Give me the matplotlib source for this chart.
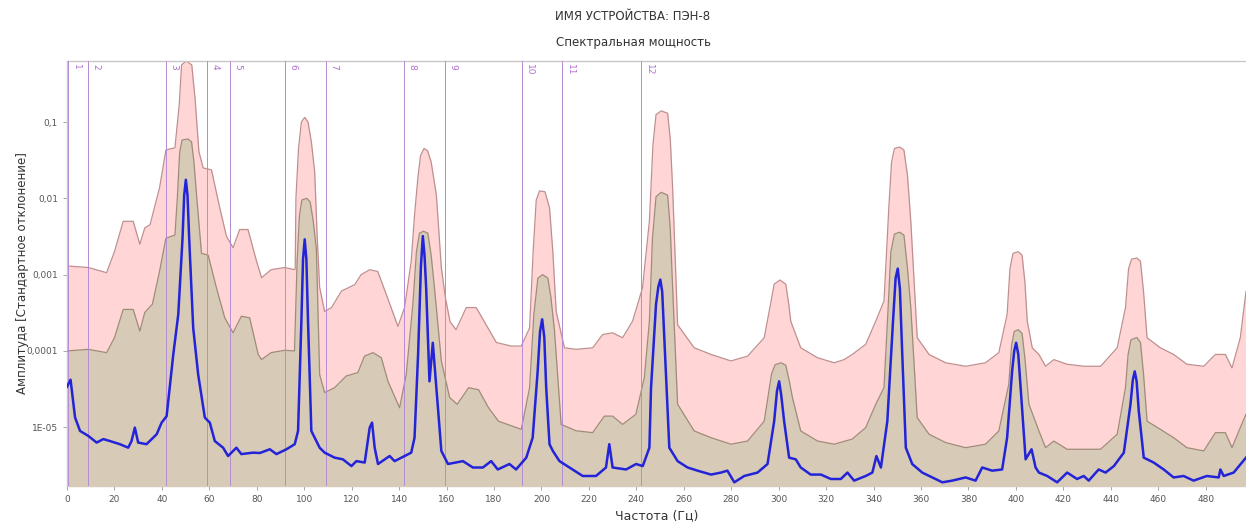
import numpy as np
import matplotlib.pyplot as plt
import matplotlib.transforms as mtransforms
from matplotlib.ticker import FixedLocator, NullLocator

plt.rcParams["font.family"] = ["DejaVu Sans"]

# верхняя граница (розовая заливка)
up_f = [0, 9, 16.7, 20, 23.7, 27.9, 30.7, 32.8, 35, 39, 41.7, 45.5, 47.3, 48.3, 50.3, 52.6, 54,
        55.6, 57.4, 60.9, 64.4, 67.2, 70, 72.8, 76.3, 79.9, 82, 86, 91.8, 96, 96.2, 96.5, 97.6,
        98.8, 100.2, 101.6, 103, 104.4, 105.5, 106.5, 108.6, 111.5, 115.7, 121.3, 124, 127.6,
        131, 134.6, 139.5, 142.3, 145.1, 146.5, 147.9, 149, 150.5, 152, 153.5, 155.7, 157.8,
        159.5, 161.5, 164, 168.3, 172.5, 176.7, 181, 187.2, 191.5, 195, 196.5, 197.8, 199.2,
        201.5, 203.4, 204.8, 206.2, 209.7, 214.6, 221.6, 225.8, 230, 234.2, 238.4, 242.6,
        245.5, 247, 248.3, 250.5, 253.2, 254.3, 255.3, 257.4, 264.4, 271.5, 279.9, 286.9,
        293.9, 296.5, 298.1, 300.5, 303, 304.3, 305.1, 309.3, 316.4, 323.4, 327.6, 331, 336.7,
        340.9, 344.4, 346.5, 347.6, 348.8, 351, 352.8, 354.3, 355.7, 358.4, 363.4, 370.4,
        378.8, 387.2, 392.8, 396.3, 397.5, 398.8, 401, 402.6, 403.8, 404.8, 406.9, 409.7,
        412.5, 416, 421.6, 428.6, 435.7, 442.7, 446.2, 447.5, 448.8, 451, 452.5, 453.8, 455.3,
        460.9, 466.5, 472.1, 479.2, 484.1, 488.3, 491.1, 494.6, 497]
up_v = [1.3e-3, 1.24e-3, 1.06e-3, 2.0e-3, 5.0e-3, 5.0e-3, 2.5e-3, 4.1e-3, 4.5e-3, 1.37e-2,
        4.3e-2, 4.6e-2, 0.167, 0.56, 0.63, 0.56, 0.2, 4.1e-2, 2.5e-2, 2.36e-2, 7.5e-3, 3.2e-3,
        2.25e-3, 3.9e-3, 3.9e-3, 1.5e-3, 9.1e-4, 1.16e-3, 1.24e-3, 1.16e-3, 1.2e-3, 1.0e-2,
        4.5e-2, 0.1, 0.115, 0.1, 5.5e-2, 2.24e-2, 3.0e-3, 6.8e-4, 3.3e-4, 3.7e-4, 6.1e-4,
        7.4e-4, 1.0e-3, 1.16e-3, 1.1e-3, 5.5e-4, 2.1e-4, 3.7e-4, 1.5e-3, 6.0e-3, 1.84e-2,
        3.6e-2, 4.5e-2, 4.2e-2, 3.0e-2, 1.11e-2, 1.24e-3, 5.0e-4, 2.4e-4, 1.9e-4, 3.7e-4,
        3.7e-4, 2.2e-4, 1.29e-4, 1.16e-4, 1.16e-4, 2.0e-4, 2.0e-3, 9.5e-3, 1.25e-2, 1.22e-2,
        7.5e-3, 2.0e-3, 3.3e-4, 1.1e-4, 1.05e-4, 1.1e-4, 1.64e-4, 1.73e-4, 1.49e-4, 2.45e-4,
        6.7e-4, 5.0e-3, 5.0e-2, 0.125, 0.14, 0.13, 6.0e-2, 1.37e-2, 2.2e-4, 1.1e-4, 9.0e-5,
        7.4e-5, 8.55e-5, 1.49e-4, 4.0e-4, 7.5e-4, 8.5e-4, 7.5e-4, 4.0e-4, 2.45e-4, 1.1e-4,
        8.15e-5, 7.0e-5, 7.7e-5, 9.0e-5, 1.22e-4, 2.45e-4, 4.5e-4, 8.2e-3, 3.0e-2, 4.5e-2,
        4.7e-2, 4.3e-2, 2.0e-2, 5.0e-3, 1.49e-4, 9.0e-5, 7.0e-5, 6.3e-5, 7.0e-5, 9.5e-5,
        3.0e-4, 1.2e-3, 1.9e-3, 2.0e-3, 1.8e-3, 8.0e-4, 2.45e-4, 1.1e-4, 9.0e-5, 6.3e-5,
        7.7e-5, 6.7e-5, 6.3e-5, 6.3e-5, 1.1e-4, 3.7e-4, 1.2e-3, 1.6e-3, 1.65e-3, 1.5e-3,
        6.0e-4, 1.49e-4, 1.1e-4, 9.0e-5, 6.7e-5, 6.3e-5, 9.0e-5, 9.0e-5, 6.0e-5, 1.49e-4,
        6.0e-4]

# средняя граница (бежевая заливка)
mid_f = [0, 9, 16.7, 20, 23.7, 27.9, 30.7, 32.8, 36, 39, 41.7, 45.5, 46.5, 47.5, 48.5, 51,
         52.5, 53.5, 54.6, 56.7, 59.5, 63, 66.5, 70, 73.5, 77, 80.6, 82, 86, 91.8, 95.9, 97,
         98, 99, 101, 102.5, 103.8, 105.1, 106.5, 108.6, 112.8, 117.7, 122.6, 125.4, 129,
         132.5, 135.3, 140.2, 143, 145.8, 147.3, 148.6, 150.3, 152.1, 153.5, 154.9, 157.8,
         161.3, 164.5, 169.3, 173.5, 177.7, 181.9, 191.5, 195, 196.8, 198.5, 200.5, 202.7,
         204, 205.5, 208.3, 214.6, 221.6, 226.5, 230, 234.2, 239.8, 243.4, 245.5, 246.8,
         248.3, 250.5, 253.2, 254.3, 255.3, 257.4, 264.4, 271.5, 279.9, 286.9, 293.9, 295.5,
         297, 298.5, 301, 303, 304.5, 305.8, 309.3, 316.4, 323.4, 331, 336.7, 340.9, 344.4,
         346, 347.3, 348.8, 351, 352.8, 354.3, 355.7, 358.4, 363.4, 370.4, 378.8, 387.2,
         392.8, 397, 398.2, 399.3, 401, 402.6, 403.8, 405.5, 409.7, 412.5, 416, 421.6, 428.6,
         435.7, 442.7, 446.2, 447.3, 448.5, 451, 452.5, 453.8, 455.3, 460.9, 466.5, 472.1,
         479.2, 484.1, 488.3, 491.1, 494.6, 497]
mid_v = [1.0e-4, 1.05e-4, 9.5e-5, 1.49e-4, 3.5e-4, 3.5e-4, 1.82e-4, 3.2e-4, 4.1e-4, 1.1e-3,
         3.0e-3, 3.3e-3, 1.0e-2, 4.0e-2, 5.8e-2, 6.0e-2, 5.5e-2, 3.0e-2, 1.11e-2, 1.9e-3,
         1.8e-3, 6.7e-4, 2.72e-4, 1.73e-4, 2.85e-4, 2.72e-4, 9.0e-5, 7.7e-5, 9.5e-5, 1.02e-4,
         1.0e-4, 1.5e-3, 6.0e-3, 9.5e-3, 1.0e-2, 9.0e-3, 5.0e-3, 2.2e-3, 4.9e-5, 2.85e-5,
         3.3e-5, 4.7e-5, 5.2e-5, 8.55e-5, 9.5e-5, 8.15e-5, 4.0e-5, 1.8e-5, 4.9e-5, 4.1e-4,
         2.0e-3, 3.5e-3, 3.7e-3, 3.5e-3, 1.8e-3, 6.7e-4, 7.4e-5, 2.45e-5, 2.0e-5, 3.3e-5,
         3.1e-5, 1.8e-5, 1.2e-5, 9.4e-6, 3.3e-5, 3.0e-4, 9.0e-4, 1.0e-3, 9.0e-4, 5.0e-4,
         1.82e-4, 1.09e-5, 9.0e-6, 8.5e-6, 1.4e-5, 1.4e-5, 1.09e-5, 1.48e-5, 4.5e-5, 2.45e-4,
         3.0e-3, 1.05e-2, 1.2e-2, 1.1e-2, 4.0e-3, 6.7e-4, 2.0e-5, 8.95e-6, 7.3e-6, 6.0e-6,
         6.6e-6, 1.2e-5, 2.5e-5, 5.0e-5, 6.6e-5, 7.0e-5, 6.5e-5, 4.0e-5, 2.45e-5, 8.95e-6,
         6.6e-6, 6.0e-6, 7.0e-6, 9.9e-6, 2.0e-5, 3.3e-5, 3.0e-4, 2.0e-3, 3.4e-3, 3.6e-3,
         3.3e-3, 1.2e-3, 3.7e-4, 1.34e-5, 8.1e-6, 6.3e-6, 5.4e-6, 6.0e-6, 8.95e-6, 3.65e-5,
         1.2e-4, 1.8e-4, 1.9e-4, 1.7e-4, 8.0e-5, 2.0e-5, 8.95e-6, 5.4e-6, 6.6e-6, 5.15e-6,
         5.15e-6, 5.15e-6, 8.1e-6, 3.3e-5, 9.0e-5, 1.4e-4, 1.5e-4, 1.3e-4, 5.0e-5, 1.2e-5,
         9.4e-6, 7.3e-6, 5.4e-6, 4.9e-6, 8.5e-6, 8.5e-6, 5.4e-6, 9.9e-6, 1.48e-5]

# среднее значение (синяя линия)
avg_f = [0, 0.5, 1.5, 3.4, 5.5, 9, 12.5, 15.3, 18.1, 22.3, 25.8, 27.2, 28.6, 30, 33.5, 37.8,
         39.9, 42, 44.8, 46.9, 48.7, 49.4, 50.1, 50.8, 51.5, 53.2, 55.3, 58.1, 60.2, 62.3,
         65.8, 67.9, 71.4, 73.5, 78.4, 81.3, 85.5, 88.3, 92.5, 96, 97.4, 98.8, 99.5, 100.2,
         100.9, 101.6, 103, 106.5, 108.6, 112.8, 116.3, 119.9, 122, 125.5, 127.6, 128.6,
         129.7, 131.1, 136, 138.1, 142.3, 145.1, 146.5, 148, 149.2, 150, 150.7, 151.4, 152.8,
         154.2, 155.7, 157.8, 160.6, 166.9, 171.1, 175.3, 178.8, 181.6, 186.5, 189.3, 193.6,
         196.3, 198.4, 199.4, 200.3, 201.2, 202, 203.4, 204.8, 207.6, 211.8, 217.4, 223,
         227.2, 228.6, 230, 235.7, 239.9, 242.7, 245.5, 246.2, 248.3, 249.3, 250.1, 250.9,
         251.8, 253.9, 257.4, 261.6, 265.8, 271.5, 275.7, 278.4, 281.3, 285.5, 291.1, 295.3,
         298.1, 299.3, 300.2, 301.1, 302.3, 304.4, 307.2, 309.3, 313.5, 317.8, 322, 326.2,
         329, 331.8, 336.7, 339.5, 341.2, 343.1, 345.8, 348.2, 349.3, 350.2, 351.1, 352.1,
         353.6, 356.3, 360.5, 364.8, 369, 373.2, 378.8, 383, 385.8, 390, 394.2, 396.3, 398.4,
         399.3, 400.1, 401, 402, 404.1, 406.6, 408.3, 409.7, 413.2, 417.4, 421.6, 425.8,
         428.6, 430.7, 434.9, 437.8, 441.3, 445.5, 448.3, 449.3, 450.1, 450.9, 451.8, 453.9,
         458.1, 462.3, 466.5, 470.7, 474.9, 480.5, 485.5, 486.2, 487.6, 491.8, 497]
avg_v = [3.4e-5, 3.65e-5, 4.2e-5, 1.34e-5, 8.95e-6, 7.7e-6, 6.3e-6, 7.0e-6, 6.6e-6, 6.0e-6,
         5.4e-6, 6.6e-6, 9.9e-6, 6.3e-6, 6.0e-6, 8.1e-6, 1.15e-5, 1.4e-5, 9.0e-5, 3.0e-4,
         3.0e-3, 1.1e-2, 1.75e-2, 1.1e-2, 3.0e-3, 2.0e-4, 4.9e-5, 1.34e-5, 1.15e-5, 6.6e-6,
         5.4e-6, 4.2e-6, 5.4e-6, 4.45e-6, 4.65e-6, 4.6e-6, 5.15e-6, 4.45e-6, 5.15e-6, 6.0e-6,
         8.95e-6, 2.45e-4, 1.6e-3, 2.9e-3, 1.6e-3, 2.45e-4, 8.95e-6, 5.4e-6, 4.65e-6, 4.0e-6,
         3.8e-6, 3.1e-6, 3.6e-6, 3.45e-6, 9.9e-6, 1.15e-5, 5.4e-6, 3.3e-6, 4.2e-6, 3.6e-6,
         4.2e-6, 4.65e-6, 7.3e-6, 9.0e-5, 1.3e-3, 3.2e-3, 1.8e-3, 6.7e-4, 4.0e-5, 1.28e-4,
         3.3e-5, 4.9e-6, 3.3e-6, 3.6e-6, 2.97e-6, 2.97e-6, 3.6e-6, 2.8e-6, 3.3e-6, 2.8e-6,
         4.0e-6, 7.3e-6, 5.4e-5, 1.8e-4, 2.6e-4, 1.5e-4, 3.3e-5, 6.0e-6, 4.9e-6, 3.6e-6,
         2.97e-6, 2.3e-6, 2.3e-6, 2.97e-6, 6.0e-6, 2.97e-6, 2.8e-6, 3.3e-6, 3.1e-6, 5.4e-6,
         3.3e-5, 4.1e-4, 7.0e-4, 8.6e-4, 6.0e-4, 1.49e-4, 5.4e-6, 3.6e-6, 2.97e-6, 2.7e-6,
         2.4e-6, 2.55e-6, 2.7e-6, 1.9e-6, 2.3e-6, 2.55e-6, 3.3e-6, 1.2e-5, 3.0e-5, 4.0e-5,
         2.6e-5, 1.2e-5, 4.0e-6, 3.8e-6, 2.97e-6, 2.4e-6, 2.4e-6, 2.1e-6, 2.1e-6, 2.55e-6,
         2.0e-6, 2.3e-6, 2.55e-6, 4.2e-6, 2.97e-6, 1.2e-5, 2.45e-4, 9.0e-4, 1.2e-3, 6.5e-4,
         9.0e-5, 5.4e-6, 3.3e-6, 2.55e-6, 2.2e-6, 1.9e-6, 2.0e-6, 2.2e-6, 2.0e-6, 2.97e-6,
         2.7e-6, 2.8e-6, 7.3e-6, 5.4e-5, 1.0e-4, 1.28e-4, 9.0e-5, 3.3e-5, 3.8e-6, 5.15e-6,
         2.97e-6, 2.55e-6, 2.3e-6, 1.9e-6, 2.55e-6, 2.1e-6, 2.3e-6, 2.0e-6, 2.8e-6, 2.55e-6,
         3.1e-6, 4.65e-6, 2.0e-5, 4.2e-5, 5.4e-5, 4.0e-5, 1.63e-5, 4.0e-6, 3.45e-6, 2.8e-6,
         2.2e-6, 2.3e-6, 2.0e-6, 2.3e-6, 2.2e-6, 2.8e-6, 2.3e-6, 2.55e-6, 4.0e-6]

# маркеры (вертикальные линии)
marker_f = [0.5, 8.8, 41.7, 59.2, 68.6, 91.8, 109, 141.9, 159.2, 191.6, 208.8, 242.1]
marker_lbl = [str(i) for i in range(1, 13)]

y_ticks = [1e-5, 1e-4, 1e-3, 1e-2, 1e-1]
y_tick_lbl = ["1E-05", "0,0001", "0,001", "0,01", "0,1"]
x_ticks = list(range(0, 481, 20))

fig = plt.figure(figsize=(12.46, 5.24), dpi=100)
ax = fig.add_axes([67 / 1246, 1 - 486 / 524, 1 - 67 / 1246, (486 - 61) / 524])

floor = 1e-7
ax.fill_between(up_f, up_v, floor, color="#ffd5d5", lw=0, zorder=1)
ax.plot(up_f, up_v, color="#bf8f8f", lw=0.9, zorder=2)
ax.fill_between(mid_f, mid_v, floor, color="#d7cbb7", lw=0, zorder=3)
ax.plot(mid_f, mid_v, color="#9e8c79", lw=0.9, zorder=4)

trans = mtransforms.blended_transform_factory(ax.transData, ax.transAxes)
for f, lbl in zip(marker_f, marker_lbl):
    ax.axvline(f, color="#b48cd2", lw=0.7, zorder=5)
    ax.text(f + 1.4, 0.993, lbl, transform=trans, rotation=-90, ha="left", va="top",
            fontsize=6.5, color="#b070d0", zorder=6)

ax.plot(avg_f, avg_v, color="#2323d8", lw=1.8, zorder=7)

ax.set_yscale("log")
ax.set_xlim(0, 497)
ax.set_ylim(1.7e-6, 0.63)
ax.yaxis.set_major_locator(FixedLocator(y_ticks))
ax.yaxis.set_minor_locator(NullLocator())
ax.set_yticklabels(y_tick_lbl)
ax.set_xticks(x_ticks)
ax.tick_params(axis="both", labelsize=6.5, labelcolor="#555555", color="#999999",
               length=3, width=0.6)

for side in ["top", "left", "bottom"]:
    ax.spines[side].set_color("#c8c8c8")
    ax.spines[side].set_linewidth(1.0)
ax.spines["right"].set_visible(False)

ax.set_xlabel("Частота (Гц)", fontsize=9, color="#333333", labelpad=4)
ax.set_ylabel("Амплитуда [Стандартное отклонение]", fontsize=8.5, color="#333333", labelpad=-2)

fig.text(633 / 1246, 1 - 16 / 524, "ИМЯ УСТРОЙСТВА: ПЭН-8", ha="center", va="center",
         fontsize=8.5, color="#333333")
fig.text(633 / 1246, 1 - 43 / 524, "Спектральная мощность", ha="center", va="center",
         fontsize=8.5, color="#333333")

fig.savefig("out.png", dpi=100)
